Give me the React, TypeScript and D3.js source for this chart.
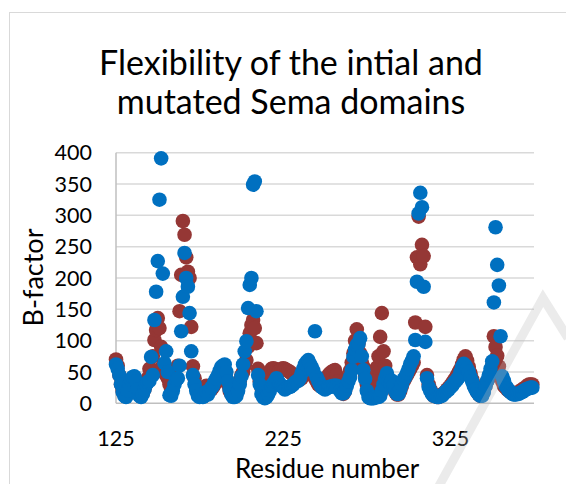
import * as React from 'react';
import * as d3 from 'd3';

// residue numbers run consecutively from this one
const FIRST_RESIDUE = 125;

// B-factor of the initial Sema domain, one value per residue (125 ... 374)
const initialBFactor = [
  70, 60, 45, 30, 20, 14, 12, 18, 28, 35,
  40, 40, 32, 22, 14, 12, 16, 22, 30, 40,
  55, 55, 75, 101, 117, 136, 120, 90, 60, 50,
  45, 40, 30, 22, 30, 35, 40, 60, 147, 205,
  291, 269, 233, 210, 200, 122, 59, 40, 25, 15,
  12, 15, 20, 25, 28, 26, 24, 22, 26, 30,
  35, 40, 45, 50, 52, 50, 40, 30, 20, 15,
  12, 12, 15, 25, 35, 45, 50, 60, 69, 90,
  112, 125, 133, 120, 96, 55, 35, 25, 20, 20,
  28, 38, 48, 55, 56, 55, 52, 50, 52, 55,
  56, 55, 53, 52, 50, 48, 45, 40, 38, 40,
  38, 40, 45, 50, 55, 58, 55, 50, 45, 40,
  35, 30, 28, 28, 30, 35, 40, 45, 48, 50,
  52, 53, 45, 35, 25, 18, 15, 20, 30, 40,
  52, 65, 80, 100, 118, 95, 80, 65, 58, 45,
  30, 18, 12, 15, 25, 40, 57, 75, 106, 144,
  83, 60, 45, 35, 30, 28, 25, 18, 14, 14,
  20, 28, 35, 40, 45, 50, 55, 60, 65, 129,
  233, 298, 222, 253, 235, 122, 45, 30, 22, 16,
  12, 12, 10, 10, 12, 14, 16, 18, 22, 25,
  28, 32, 36, 40, 45, 50, 55, 62, 70, 75,
  68, 58, 48, 38, 30, 24, 18, 14, 12, 14,
  20, 28, 35, 40, 45, 60, 107, 90, 76, 59,
  45, 35, 28, 25, 22, 20, 18, 16, 15, 15,
  16, 18, 20, 22, 24, 25, 28, 30, 30, 30,
];

// B-factor of the mutated Sema domain, same residues
const mutatedBFactor = [
  62, 55, 45, 30, 18, 12, 10, 20, 30, 38,
  42, 43, 35, 22, 12, 10, 15, 22, 30, 34,
  36, 74, 45, 133, 178, 227, 325, 391, 207, 64,
  83, 50, 13, 12, 20, 30, 38, 40, 60, 115,
  170, 240, 200, 186, 144, 83, 45, 30, 20, 12,
  10, 14, 10, 12, 18, 14, 20, 25, 28, 35,
  40, 45, 52, 58, 60, 62, 50, 35, 22, 14,
  10, 10, 12, 20, 30, 43, 62, 83, 99, 152,
  189, 200, 349, 354, 147, 45, 30, 15, 10, 8,
  10, 14, 20, 28, 31, 35, 40, 35, 31, 28,
  25, 22, 24, 26, 26, 28, 30, 33, 35, 36,
  40, 48, 55, 62, 66, 69, 63, 58, 52, 115,
  42, 36, 30, 26, 24, 22, 24, 26, 26, 27,
  28, 28, 28, 24, 20, 16, 16, 20, 28, 35,
  42, 53, 74, 86, 93, 95, 104, 75, 53, 39,
  20, 10, 8, 8, 8, 9, 10, 10, 12, 20,
  30, 40, 48, 35, 31, 36, 28, 20, 15, 15,
  22, 30, 38, 42, 48, 55, 63, 68, 75, 101,
  194, 303, 336, 313, 186, 98, 40, 26, 20, 15,
  12, 12, 10, 10, 12, 12, 15, 18, 20, 22,
  26, 28, 32, 35, 38, 42, 50, 58, 63, 60,
  55, 50, 42, 35, 28, 22, 18, 14, 12, 12,
  18, 28, 36, 45, 55, 67, 161, 281, 221, 188,
  107, 43, 36, 28, 24, 20, 18, 15, 14, 14,
  15, 15, 17, 18, 20, 22, 23, 24, 25, 25,
];

const xTicks = [125, 225, 325];
const yTicks = [0, 50, 100, 150, 200, 250, 300, 350, 400];

const titleLines = ['Flexibility of the intial and', 'mutated Sema domains'];

const FONT = 'Lato, "Noto Sans", sans-serif';

export default function App() {
  const width = 566;
  const height = 484;

  const x = d3.scaleLinear().domain([125, 375]).range([116, 534]);
  const y = d3.scaleLinear().domain([0, 400]).range([403.3, 152.7]);

  const toPoints = (vals: number[]) =>
    vals.map((v, i) => ({ r: FIRST_RESIDUE + i, v }));

  const series = [
    { name: 'initial', color: '#953735', points: toPoints(initialBFactor) },
    { name: 'mutated', color: '#0070c0', points: toPoints(mutatedBFactor) },
  ];

  // faint watermark stroke from the scanned page
  const watermark = d3.line()([[439, 486], [543, 298], [568, 338]]);

  return (
    <svg
      width={width}
      height={height}
      style={{ position: 'absolute', left: 0, top: 0, background: '#fff' }}
      fontFamily={FONT}
    >
      <rect x={9.5} y={12.5} width={620} height={500} fill="#fff" stroke="#d9d9d9" />

      {titleLines.map((t, i) => (
        <text key={t} x={291} y={75 + i * 38.5} textAnchor="middle" fontSize={34} fill="#000">
          {t}
        </text>
      ))}

      {yTicks.map(t => (
        <line
          key={'g' + t}
          x1={x(125)}
          x2={x(375)}
          y1={y(t)}
          y2={y(t)}
          stroke={t === 0 ? '#bfbfbf' : '#d9d9d9'}
          strokeWidth={1.5}
        />
      ))}
      <line x1={x(125)} x2={x(125)} y1={y(400)} y2={y(0)} stroke="#bfbfbf" strokeWidth={1.5} />

      {yTicks.map(t => (
        <text key={'yl' + t} x={92} y={y(t)} dy="0.36em" textAnchor="end" fontSize={21.5} fill="#000">
          {t}
        </text>
      ))}
      {xTicks.map(t => (
        <text key={'xl' + t} x={x(t)} y={446} textAnchor="middle" fontSize={21.5} fill="#000">
          {t}
        </text>
      ))}

      {series.map(s => (
        <g key={s.name} fill={s.color}>
          {s.points.map(p => (
            <circle key={p.r} cx={x(p.r)} cy={y(p.v)} r={7.3} />
          ))}
        </g>
      ))}

      <text x={327} y={478} textAnchor="middle" fontSize={26} fill="#000">
        Residue number
      </text>
      <text transform="translate(43,277.5) rotate(-90)" textAnchor="middle" fontSize={27} fill="#000">
        B-factor
      </text>

      <path d={watermark ?? ''} fill="none" stroke="rgba(190,190,190,0.3)" strokeWidth={9} />
    </svg>
  );
}
